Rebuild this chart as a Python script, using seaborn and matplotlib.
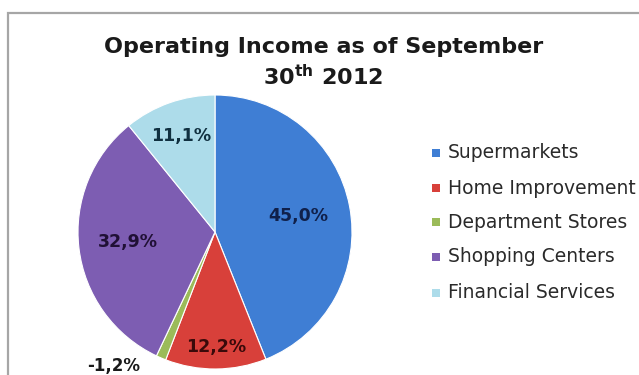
import numpy as np
import matplotlib
matplotlib.use("Agg")
import matplotlib.pyplot as plt
from matplotlib.patches import Rectangle
import seaborn as sns

# Operating income split by business segment (percent of total)
segments = ["Supermarkets", "Home Improvement", "Department Stores",
            "Shopping Centers", "Financial Services"]
shares = [45.0, 12.2, -1.2, 32.9, 11.1]
colors = ["#3F7ED4", "#D8403A", "#9BBB59", "#7D5DB2", "#ADDCEA"]

sns.set_theme(style="white")
plt.rcParams["font.family"] = ["DejaVu Sans"]

W, H = 639, 375
fig = plt.figure(figsize=(W / 100, H / 100), dpi=100)
fig.patch.set_facecolor("white")

# chart frame
fig.patches.append(Rectangle((8 / W, -0.05), 1.1, (H - 13) / H + 0.05,
                             transform=fig.transFigure, fill=False,
                             edgecolor="#A6A6A6", linewidth=1.6, zorder=0))

# pie axes
cx, cy, r = 215, 232, 137
ax = fig.add_axes([(cx - r) / W, (H - cy - r) / H, 2 * r / W, 2 * r / H])
sizes = np.abs(shares)
wedges, _ = ax.pie(sizes, colors=colors, startangle=90, counterclock=False,
                   radius=1.0, wedgeprops=dict(edgecolor="white", linewidth=0.8))
ax.set_xlim(-1, 1)
ax.set_ylim(-1, 1)
ax.set_aspect("equal")
ax.axis("off")

label_radius = [0.62, 0.84, None, 0.64, 0.74]
label_colors = ["#10204a", "#3a0a0a", "#1a1a1a", "#201035", "#103040"]
for w, val, lr, lc in zip(wedges, shares, label_radius, label_colors):
    mid = np.deg2rad((w.theta1 + w.theta2) / 2)
    txt = f"{val:.1f}%".replace(".", ",")
    if lr is None:
        ax.annotate(txt, xy=(np.cos(mid), np.sin(mid)), xytext=(-47, -8),
                    textcoords="offset pixels", ha="center", va="center",
                    fontsize=12, fontweight="bold", color=lc,
                    annotation_clip=False)
    else:
        ax.text(lr * np.cos(mid), lr * np.sin(mid), txt, ha="center",
                va="center", fontsize=12.5, fontweight="bold", color=lc)

# title
fig.text(324 / W, 1 - 47 / H, "Operating Income as of September",
         ha="center", va="center", fontsize=16, fontweight="bold", color="#1a1a1a")
fig.text(323 / W, 1 - 77 / H, r"30$^{\mathbf{th}}$ 2012",
         ha="center", va="center", fontsize=16, fontweight="bold", color="#1a1a1a")

# legend
ys = [153, 188, 222, 257, 293]
for name, col, y in zip(segments, colors, ys):
    fig.patches.append(Rectangle((432 / W, 1 - (y + 4) / H), 8 / W, 8 / H,
                                 transform=fig.transFigure, facecolor=col,
                                 edgecolor="none"))
    fig.text(448 / W, 1 - y / H, name, ha="left", va="center",
             fontsize=13.5, color="#2a2a2a")

fig.savefig("out.png", dpi=100)
